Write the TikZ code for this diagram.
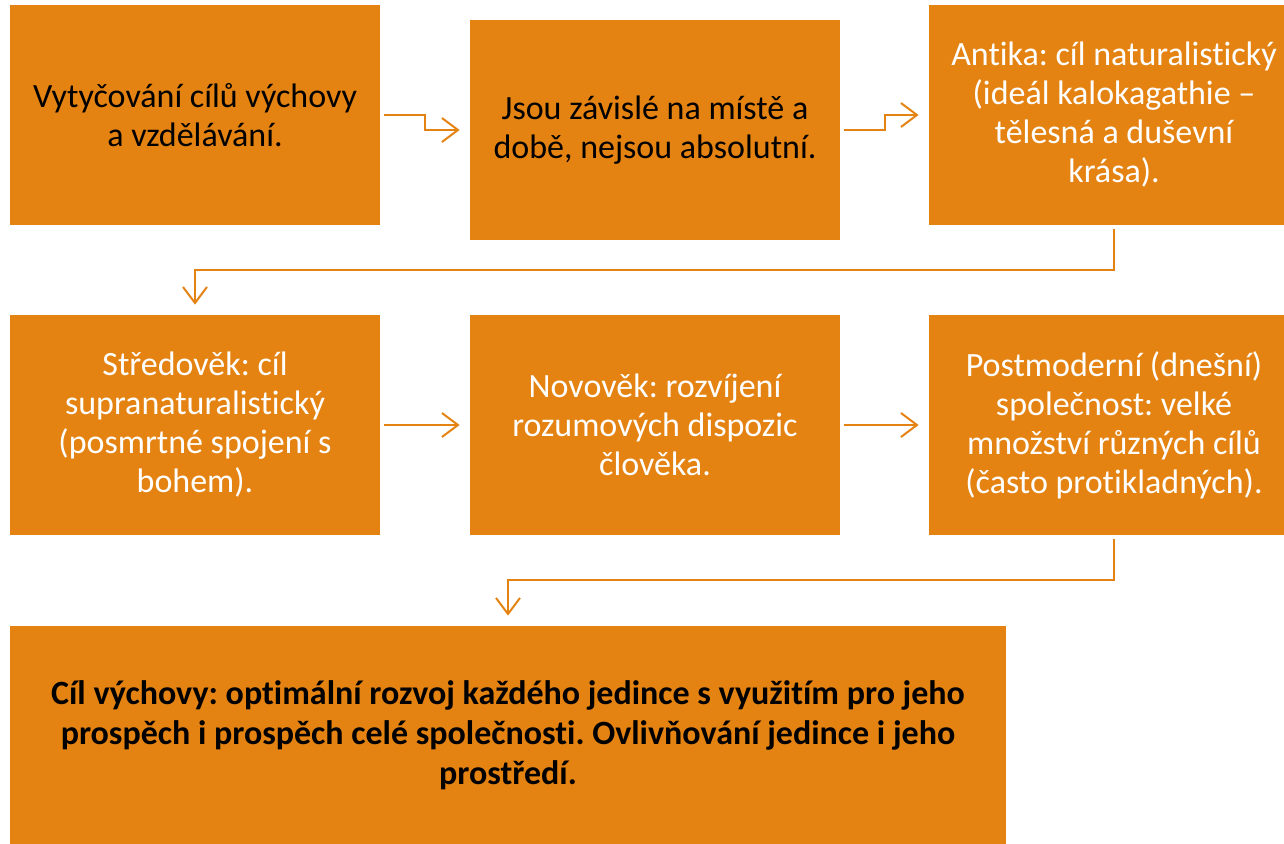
\documentclass[tikz,border=0pt]{standalone}
\usepackage{fontspec}
\setmainfont{Carlito}[Ligatures=CommonOff]
\frenchspacing
\usetikzlibrary{arrows.meta}
\definecolor{boxorange}{RGB}{228,131,18}

\begin{document}
\begin{tikzpicture}[x=0.5pt,y=-0.5pt,
        link/.style={draw=boxorange,line width=1pt,-{Straight Barb[length=8pt,width=12pt]},shorten <=2pt,shorten >=5pt}]
            \useasboundingbox (0,0) rectangle (1284,843);
            \begin{scope}[every node/.style={fill=boxorange,inner sep=0pt,minimum width=185pt,minimum height=110pt,align=center,font=\fontsize{17}{19.5}\selectfont}]
                \node (S1) at (195, 115) {Vytyčování cílů výchovy\\a vzdělávání.};
                \node (S2) at (655, 130) {Jsou závislé na místě a\\době, nejsou absolutní.};
                \node[text=white] (S3) at (1114, 115) {Antika: cíl naturalistický\\(ideál kalokagathie --\\tělesná a duševní\\krása).};
                \node[text=white] (S4) at (195, 425) {Středověk: cíl\\supranaturalistický\\(posmrtné spojení s\\bohem).};
                \node[text=white] (S5) at (655, 425) {Novověk: rozvíjení\\rozumových dispozic\\člověka.};
                \node[text=white] (S6) at (1114, 425) {Postmoderní (dnešní)\\společnost: velké\\množství různých cílů\\(často protikladných).};
                \node[minimum width=498pt,minimum height=109pt,font=\bfseries\fontsize{17}{20}\selectfont] (G) at (508, 735) {Cíl výchovy: optimální rozvoj každého jedince s využitím pro jeho\\prospěch i prospěch celé společnosti. Ovlivňování jedince i jeho\\prostředí.};
            \end{scope}
            \path [link] (S1.east) -- ++(45,0) |- (S2.west);
            \path [link] (S2.east) -- ++(45,0) |- (S3.west);
            \path [link] (S3.south) -- ++(0,45) -| (S4.north);
            \path [link] (S4) -- (S5);
            \path [link] (S5) -- (S6);
            \path [link] (S6.south) -- ++(0,45) -| (G.north);
        \end{tikzpicture}
\end{document}
